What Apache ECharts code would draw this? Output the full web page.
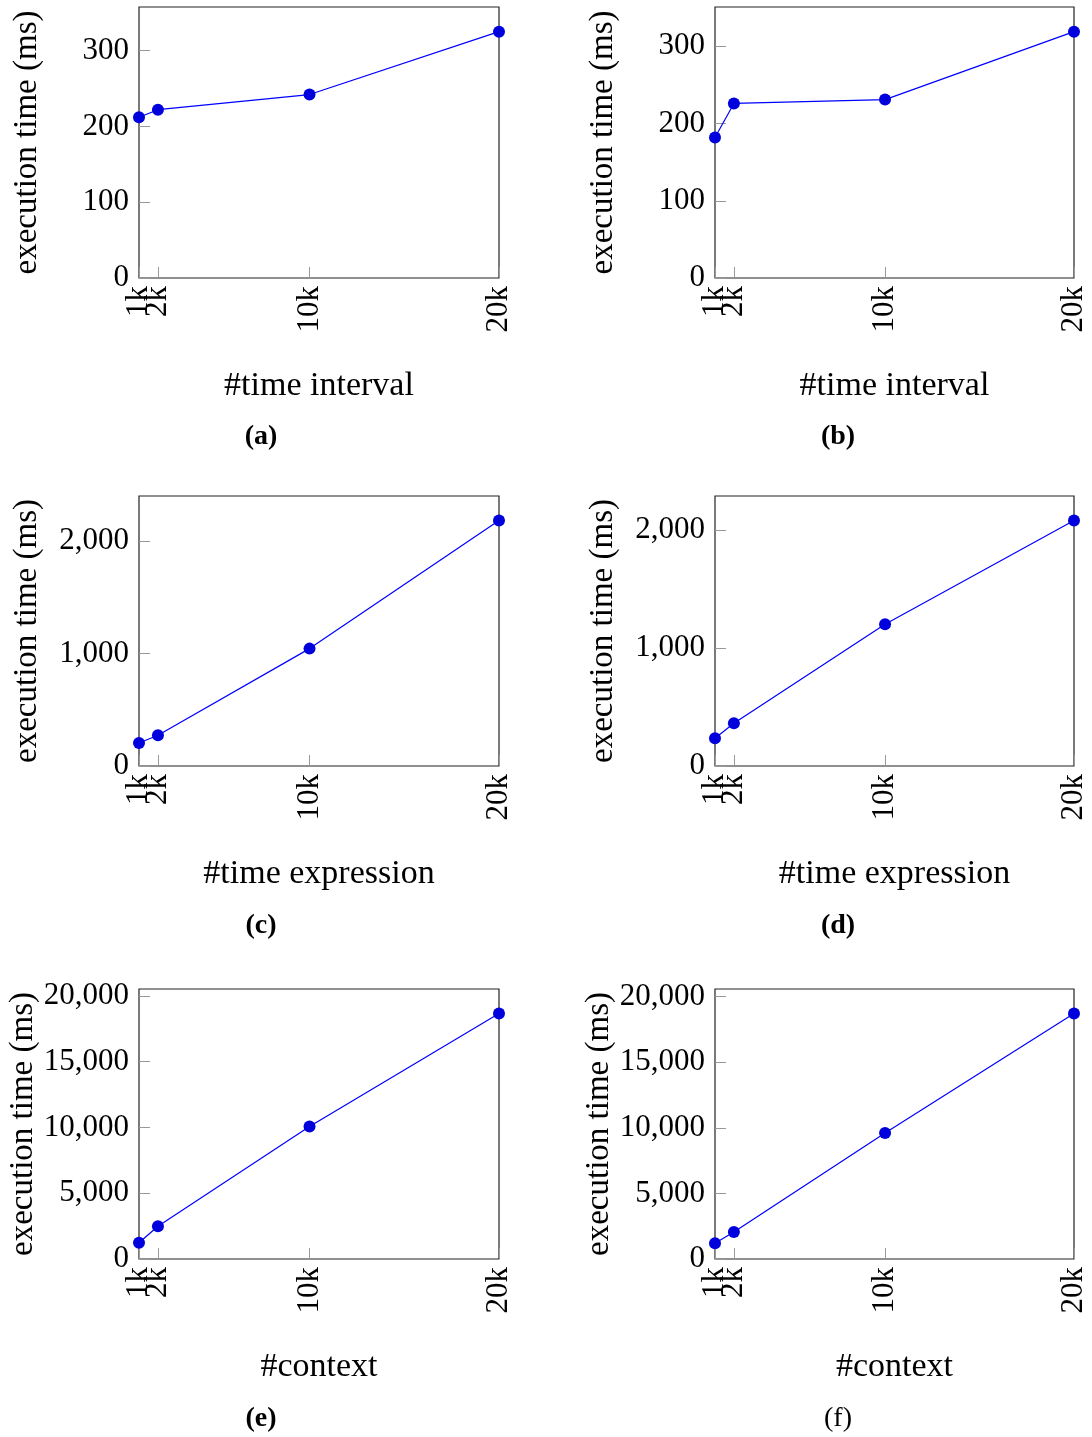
<!DOCTYPE html>
<html>
<head>
<meta charset="utf-8">
<script src="https://cdn.jsdelivr.net/npm/echarts@6/dist/echarts.min.js"></script>
<style>
  html, body { margin: 0; padding: 0; background: #fff; }
  #chart { width: 1092px; height: 1437px; }
</style>
</head>
<body>
<div id="chart"></div>
<script>
// ---- data ----
const xValues = [1000, 2000, 10000, 20000];
const xTickLabels = ['1k', '2k', '10k', '20k'];
const seriesA = [212, 222, 242, 325];
const seriesB = [182, 226, 231, 319];
const seriesC = [204, 273, 1043, 2181];
const seriesD = [235, 362, 1202, 2082];
const seriesE = [1240, 2484, 10063, 18656];
const seriesF = [1194, 2058, 9606, 18704];
const yIntervals = [100, 100, 1000, 1000, 5000, 5000];
const captions = ['(a)', '(b)', '(c)', '(d)', '(e)', '(f)'];
const captionBold = [true, true, true, true, true, false];
const xTitles = ['#time interval', '#time interval', '#time expression', '#time expression', '#context', '#context'];
const yTitle = 'execution time (ms)';

// ---- layout ----
const FONT = '"Liberation Serif", "DejaVu Serif", serif';
const colLeft = [139, 715];
const colWidth = [360, 359];
const rowTop = [7, 496, 989];
const rowHeight = [271, 270, 270];
const captionX = [261, 838];
const captionCenterY = [438, 927, 1420];

const allSeries = [seriesA, seriesB, seriesC, seriesD, seriesE, seriesF];

// ticks split into two label groups so that overlapping "1k"/"2k" are both drawn
const xGroupMain = xValues.filter((_, k) => k !== 1);
const xGroupAlt = [xValues[1]];

const grids = [], xAxes = [], yAxes = [], series = [], titles = [];
const fmtX = v => xTickLabels[xValues.indexOf(v)];

function makeXAxis(gridIdx, vals, withName, i) {
  return {
    type: 'value', gridIndex: gridIdx, position: 'bottom', offset: 0,
    min: xValues[0], max: xValues[xValues.length - 1],
    axisLine: { show: false },
    splitLine: { show: false },
    axisTick: { show: true, inside: true, length: 11, customValues: vals,
      lineStyle: { color: '#999', width: 1 } },
    axisLabel: { show: true, rotate: 90, margin: 8, customValues: vals,
      showMinLabel: true, showMaxLabel: true, hideOverlap: false,
      fontFamily: FONT, fontSize: 31, color: '#000', formatter: fmtX },
    name: withName ? xTitles[i] : '', nameLocation: 'middle', nameGap: 91,
    nameTextStyle: { fontFamily: FONT, fontSize: 34, color: '#000' }
  };
}

allSeries.forEach((vals, i) => {
  const col = i % 2, row = Math.floor(i / 2);
  grids.push({
    left: colLeft[col], top: rowTop[row], width: colWidth[col], height: rowHeight[row],
    show: true, borderColor: '#222', borderWidth: 1.2, backgroundColor: 'transparent',
    containLabel: false
  });
  xAxes.push(makeXAxis(i, xGroupMain, true, i));
  xAxes.push(makeXAxis(i, xGroupAlt, false, i));
  const maxV = Math.max(...vals) * 1.1;
  yAxes.push({
    type: 'value', gridIndex: i, min: 0, max: maxV, interval: yIntervals[i],
    axisLine: { show: false },
    splitLine: { show: false },
    axisTick: { show: true, inside: true, length: 11, lineStyle: { color: '#999', width: 1 } },
    axisLabel: { show: true, margin: 10, showMaxLabel: false, showMinLabel: true,
      fontFamily: FONT, fontSize: 31, color: '#000',
      formatter: v => v.toLocaleString('en-US') },
    name: yTitle, nameLocation: 'middle', nameGap: 95, nameRotate: 90,
    nameTextStyle: { fontFamily: FONT, fontSize: 33, color: '#000' }
  });
  series.push({
    type: 'line', xAxisIndex: 2 * i, yAxisIndex: i,
    data: xValues.map((x, k) => [x, vals[k]]),
    symbol: 'circle', symbolSize: 12, clip: false,
    lineStyle: { color: '#0000ff', width: 1.2 },
    itemStyle: { color: '#0000dd' },
    animation: false
  });
  titles.push({
    text: captions[i], left: captionX[col], top: captionCenterY[row] - 15,
    textAlign: 'center', padding: 0,
    textStyle: { fontFamily: FONT, fontSize: 28, color: '#000',
      fontWeight: captionBold[i] ? 'bold' : 'normal' }
  });
});

const chart = echarts.init(document.getElementById('chart'), null, { renderer: 'canvas' });
chart.setOption({
  animation: false,
  backgroundColor: '#fff',
  title: titles,
  grid: grids,
  xAxis: xAxes,
  yAxis: yAxes,
  series: series
});
</script>
</body>
</html>
